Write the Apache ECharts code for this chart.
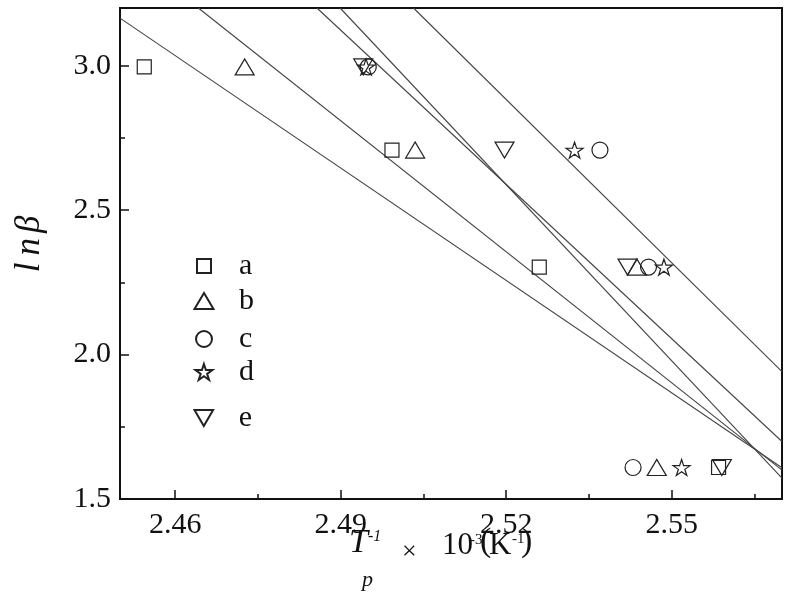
<!DOCTYPE html>
<html>
<head>
<meta charset="utf-8">
<script src="https://cdn.jsdelivr.net/npm/echarts@6.0.0/dist/echarts.min.js"></script>
<style>
  html, body { margin: 0; padding: 0; background: #fff; }
  #chart { width: 792px; height: 597px; }
</style>
</head>
<body>
<div id="chart"></div>
<script>
// tick positions
const xTickLabels = [2.46, 2.49, 2.52, 2.55]
const xMinorTicks = [2.475, 2.505, 2.535, 2.565]
const yTickLabels = [1.5, 2.0, 2.5, 3.0]
const yMinorTicks = [1.75, 2.25, 2.75]

// ln(beta) for beta = 20, 15, 10, 5
const lnBeta = [2.996, 2.708, 2.303, 1.609]
const seriesNames = ['a', 'b', 'c', 'd', 'e']
// 1/Tp x 10^-3 for each sample
const tpA = [2.4544, 2.4993, 2.5260, 2.5585]
const tpB = [2.4726, 2.5035, 2.5437, 2.5473]
const tpC = [2.4950, 2.5370, 2.5458, 2.5430]
const tpD = [2.4946, 2.5324, 2.5486, 2.5518]
const tpE = [2.4941, 2.5197, 2.5420, 2.5591]

// fitted lines, read as end points on the frame
const fitLine1 = [[2.45, 3.165], [2.57, 1.608]]
const fitLine2 = [[2.4642, 3.2], [2.57, 1.600]]
const fitLine3 = [[2.4857, 3.2], [2.57, 1.699]]
const fitLine4 = [[2.4899, 3.2], [2.57, 1.572]]
const fitLine5 = [[2.5032, 3.2], [2.57, 1.941]]

const FONT = 'Liberation Serif'
const INK = '#111'

const star = 'path://M100,0L122.45,69.1L195.1,69.1L136.3,111.8L158.8,180.9L100,138.2L41.2,180.9L63.7,111.8L4.9,69.1L77.55,69.1Z'
const downTri = 'path://M0,0L100,0L50,86Z'

const markers = [
  {symbol: 'rect', size: [14, 14], legendSize: [14, 14], y: 258},
  {symbol: 'triangle', size: [19, 16], legendSize: [19, 16], y: 294},
  {symbol: 'circle', size: [16, 16], legendSize: [16, 16], y: 332},
  {symbol: star, size: [17, 16], legendSize: [17, 16], y: 365},
  {symbol: downTri, size: [19, 16], legendSize: [19, 16], y: 411}
]
const tpAll = [tpA, tpB, tpC, tpD, tpE]
const fitLines = [fitLine1, fitLine2, fitLine3, fitLine4, fitLine5]

const chart = echarts.init(document.getElementById('chart'))

const scatterSeries = seriesNames.map((name, i) => ({
  name,
  type: 'scatter',
  symbol: markers[i].symbol,
  symbolSize: markers[i].size,
  z: 5,
  itemStyle: {color: 'rgba(0,0,0,0)', borderColor: '#222', borderWidth: 1.2, opacity: 1},
  data: tpAll[i].map((x, j) => [x, lnBeta[j]])
}))

const lineSeries = fitLines.map((pts, i) => ({
  name: 'fit' + (i + 1),
  type: 'line',
  symbol: 'none',
  silent: true,
  z: 3,
  lineStyle: {color: '#444', width: 1.1},
  data: pts
}))

const legends = seriesNames.map((name, i) => {
  const [w, h] = markers[i].legendSize
  const left = 203 - w / 2
  return {
    data: [name],
    left: left,
    top: markers[i].y - h / 2,
    padding: 0,
    itemWidth: w,
    itemHeight: h,
    selectedMode: false,
    textStyle: {fontFamily: FONT, fontSize: 30, color: INK, padding: [0, 0, 6, 238 - (left + w + 5)]}
  }
})

function txt(text, x, y, size, italic) {
  return {
    type: 'text',
    x: x,
    y: y,
    style: {
      text: text,
      font: (italic ? 'italic ' : '') + size + 'px "' + FONT + '"',
      fill: INK,
      textAlign: 'left',
      textVerticalAlign: 'middle'
    }
  }
}

const italicTok = {fontFamily: FONT, fontStyle: 'italic', fontSize: 35, color: INK}

const option = {
  backgroundColor: '#fff',
  animation: false,
  grid: {left: 120, right: 10, top: 8, bottom: 98, show: true, borderColor: INK, borderWidth: 2},
  legend: legends,
  xAxis: [{
    type: 'value',
    min: 2.45,
    max: 2.57,
    splitLine: {show: false},
    axisLine: {lineStyle: {color: INK, width: 2}},
    axisTick: {inside: true, length: 9, customValues: xTickLabels, lineStyle: {color: INK, width: 1.5}},
    axisLabel: {customValues: xTickLabels, margin: 11, fontFamily: FONT, fontSize: 30, color: INK,
      formatter: v => v.toFixed(2)}
  }, {
    type: 'value',
    position: 'bottom',
    min: 2.45,
    max: 2.57,
    splitLine: {show: false},
    axisLine: {show: false},
    axisTick: {inside: true, length: 5, customValues: xMinorTicks, lineStyle: {color: INK, width: 1.5}},
    axisLabel: {show: false}
  }],
  yAxis: [{
    type: 'value',
    min: 1.5,
    max: 3.2,
    splitLine: {show: false},
    axisLine: {lineStyle: {color: INK, width: 2}},
    axisTick: {inside: true, length: 9, customValues: yTickLabels, lineStyle: {color: INK, width: 1.5}},
    axisLabel: {customValues: yTickLabels, margin: 9, fontFamily: FONT, fontSize: 30, color: INK,
      formatter: v => v.toFixed(1)}
  }, {
    type: 'value',
    position: 'left',
    min: 1.5,
    max: 3.2,
    splitLine: {show: false},
    axisLine: {show: false},
    axisTick: {inside: true, length: 5, customValues: yMinorTicks, lineStyle: {color: INK, width: 1.5}},
    axisLabel: {show: false}
  }],
  graphic: [
    {
      type: 'text',
      x: 30,
      y: 244,
      rotation: Math.PI / 2,
      style: {
        text: '{l|l}{n|n}{b|β}',
        fill: INK,
        textAlign: 'center',
        textVerticalAlign: 'middle',
        rich: {
          l: Object.assign({padding: [0, 7, 0, 0]}, italicTok),
          n: Object.assign({padding: [0, 5, 0, 0]}, italicTok),
          b: italicTok
        }
      }
    },
    txt('T', 349, 543, 34, true),
    txt('-1', 368, 537, 16, true),
    txt('p', 362, 580, 22, true),
    txt('×', 402, 552, 26, false),
    txt('10', 442, 546, 31, false),
    txt('-3', 470, 540, 15, false),
    txt('(', 480, 542, 34, false),
    txt('K', 489, 546, 31, false),
    txt('-1', 512, 539, 15, false),
    txt(')', 521, 542, 34, false)
  ],
  series: lineSeries.concat(scatterSeries)
}

chart.setOption(option)
</script>
</body>
</html>
